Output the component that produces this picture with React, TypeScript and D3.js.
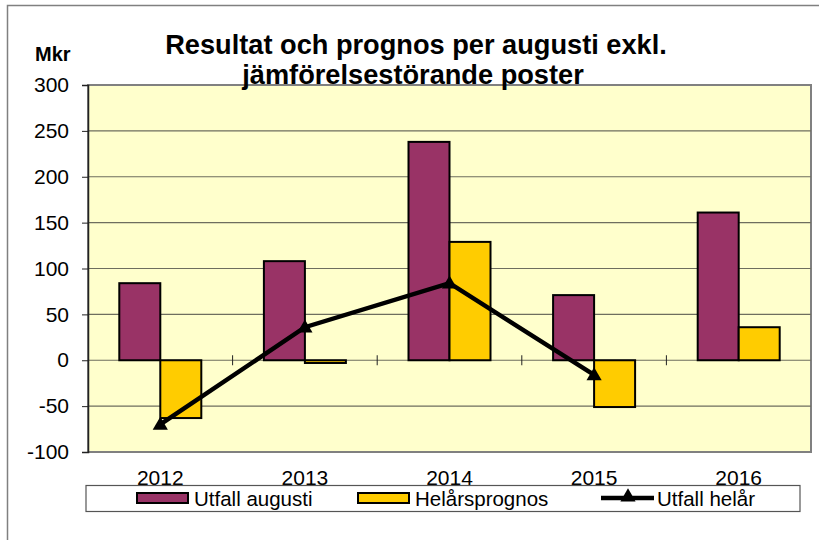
import { useEffect, useRef } from "react";
import * as d3 from "d3";

const years = ["2012", "2013", "2014", "2015", "2016"];
const utfallAugusti = [84, 108, 238, 71, 161];
const helarsprognos = [-63, -3, 129, -51, 36];
const utfallHelar = [-70, 36, 84, -16, null];
const yTicks = [-100, -50, 0, 50, 100, 150, 200, 250, 300];

const W = 819, H = 540;
const PURPLE = "#993366", YELLOW = "#ffcc00";

export default function App() {
  const ref = useRef<SVGSVGElement>(null);

  useEffect(() => {
    const svg = d3.select(ref.current);
    svg.selectAll("*").remove();
    const font = "'Liberation Sans', Arial, sans-serif";

    const left = 88, right = 811, top = 85, bottom = 452;

    // outer frame
    svg.append("rect").attr("x", 7.5).attr("y", 5.5).attr("width", W).attr("height", H)
      .attr("fill", "white").attr("stroke", "#808080").attr("stroke-width", 1.5);

    const x = d3.scaleBand().domain(years).range([left, right]);
    const y = d3.scaleLinear().domain([-100, 300]).range([bottom, top]);

    // plot area
    svg.append("rect").attr("x", left).attr("y", top).attr("width", right - left).attr("height", bottom - top)
      .attr("fill", "#ffffcc").attr("stroke", "#808080").attr("stroke-width", 2);

    svg.selectAll(".grid").data(yTicks.slice(1, -1)).join("line").attr("class", "grid")
      .attr("x1", left).attr("x2", right).attr("y1", d => y(d)).attr("y2", d => y(d))
      .attr("stroke", "#6e6e5e").attr("stroke-width", 1.2);

    // category ticks on zero line
    svg.selectAll(".ctick").data(years.slice(1)).join("line").attr("class", "ctick")
      .attr("x1", d => x(d)!).attr("x2", d => x(d)!)
      .attr("y1", y(0) - 5).attr("y2", y(0) + 5).attr("stroke", "#222").attr("stroke-width", 1);

    const bw = 41;
    const cx = (d: string) => x(d)! + x.bandwidth() / 2;

    svg.selectAll(".b1").data(years).join("rect").attr("class", "b1")
      .attr("x", d => cx(d) - bw).attr("width", bw)
      .attr("y", (d, i) => Math.min(y(utfallAugusti[i]), y(0)))
      .attr("height", (d, i) => Math.abs(y(utfallAugusti[i]) - y(0)))
      .attr("fill", PURPLE).attr("stroke", "#000").attr("stroke-width", 2);

    svg.selectAll(".b2").data(years).join("rect").attr("class", "b2")
      .attr("x", d => cx(d)).attr("width", bw)
      .attr("y", (d, i) => Math.min(y(helarsprognos[i]), y(0)))
      .attr("height", (d, i) => Math.abs(y(helarsprognos[i]) - y(0)))
      .attr("fill", YELLOW).attr("stroke", "#000").attr("stroke-width", 2);

    // y axis
    const ya = svg.append("g").attr("transform", `translate(${left},0)`)
      .call(d3.axisLeft(y).tickValues(yTicks).tickSize(6).tickPadding(13).tickFormat(d => String(d)));
    ya.select(".domain").attr("stroke", "#222").attr("stroke-width", 1.5);
    ya.selectAll("line").attr("stroke", "#222");
    ya.selectAll("text").attr("font-family", font).attr("font-size", 21).attr("fill", "#000");

    // line
    const pts = years.map((d, i) => ({ d, v: utfallHelar[i] })).filter(p => p.v !== null) as { d: string; v: number }[];
    svg.append("path").datum(pts)
      .attr("d", d3.line<{ d: string; v: number }>().x(p => cx(p.d)).y(p => y(p.v)))
      .attr("fill", "none").attr("stroke", "#000").attr("stroke-width", 4.5);
    const tri = d3.symbol().type(d3.symbolTriangle).size(100);
    svg.selectAll(".mk").data(pts).join("path").attr("class", "mk")
      .attr("d", tri()).attr("transform", p => `translate(${cx(p.d)},${y(p.v) + 1})`)
      .attr("fill", "#000");

    // x labels
    svg.selectAll(".xl").data(years).join("text").attr("class", "xl")
      .attr("x", d => cx(d)).attr("y", 485).attr("text-anchor", "middle")
      .attr("font-family", font).attr("font-size", 21).text(d => d);

    // title
    const t = svg.append("text").attr("font-family", font).attr("font-size", 27.2).attr("font-weight", "bold")
      .attr("text-anchor", "middle");
    t.append("tspan").attr("x", 416).attr("y", 54).text("Resultat och prognos per augusti exkl.");
    t.append("tspan").attr("x", 413).attr("y", 84).text("jämförelsestörande poster");

    svg.append("text").attr("x", 35).attr("y", 61).attr("font-family", font).attr("font-size", 20)
      .attr("font-weight", "bold").text("Mkr");

    // legend
    const lg = svg.append("g");
    lg.append("rect").attr("x", 86).attr("y", 485.5).attr("width", 714).attr("height", 26)
      .attr("fill", "white").attr("stroke", "#555").attr("stroke-width", 1.2);
    const items = [
      { name: "Utfall augusti", color: PURPLE, x: 137 },
      { name: "Helårsprognos", color: YELLOW, x: 358 },
    ];
    items.forEach(it => {
      lg.append("rect").attr("x", it.x).attr("y", 493).attr("width", 51).attr("height", 10)
        .attr("fill", it.color).attr("stroke", "#000").attr("stroke-width", 2);
      lg.append("text").attr("x", it.x + 57).attr("y", 506).attr("font-family", font).attr("font-size", 20.5)
        .text(it.name);
    });
    lg.append("line").attr("x1", 601).attr("x2", 654).attr("y1", 498).attr("y2", 498)
      .attr("stroke", "#000").attr("stroke-width", 4.5);
    lg.append("path").attr("d", tri()).attr("transform", "translate(628,497)").attr("fill", "#000");
    lg.append("text").attr("x", 657).attr("y", 506).attr("font-family", font).attr("font-size", 20.5)
      .text("Utfall helår");
  }, []);

  return (
    <svg ref={ref} width={W} height={H}
      style={{ position: "absolute", left: 0, top: 0, display: "block", background: "white" }} />
  );
}
